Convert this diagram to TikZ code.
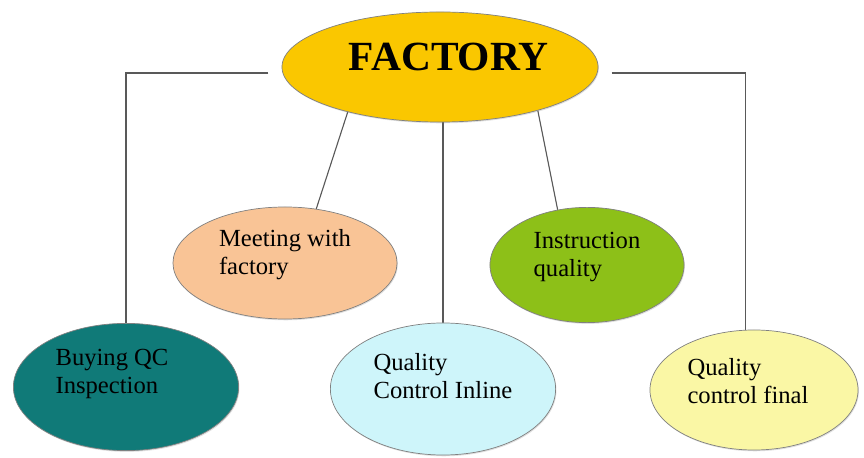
\documentclass[tikz,border=0pt]{standalone}
\usepackage{fontspec}
\setmainfont{Liberation Serif}
\usetikzlibrary{shapes.geometric,backgrounds,shadows}
\definecolor{gold}{RGB}{250,199,0}
\definecolor{peach}{RGB}{249,196,150}
\definecolor{leaf}{RGB}{141,192,24}
\definecolor{sea}{RGB}{16,122,120}
\definecolor{ice}{RGB}{206,245,250}
\definecolor{cream}{RGB}{250,247,165}
\tikzstyle{blob}=[shape=ellipse, draw=black!50, line width=0.5pt, drop shadow={opacity=0.25,shadow xshift=0.6pt,shadow yshift=-0.9pt}]
\tikzstyle{txt}=[align=left, inner sep=0, font=\fontsize{17.5}{20}\selectfont]
\tikzstyle{link}=[draw=black!65, line width=0.8pt]

\begin{document}
\begin{tikzpicture}[x=0.025cm,y=-0.025cm]
\useasboundingbox (0,0) rectangle (864,458);
% the ovals
\node[blob, fill=gold, minimum width=7.9cm, minimum height=2.75cm] (fac) at (440,67) {};
\node[blob, fill=peach, minimum width=5.6cm, minimum height=2.8cm] (meet) at (285,263) {};
\node[blob, fill=leaf, minimum width=4.85cm, minimum height=2.88cm] (instr) at (587,265) {};
\node[blob, fill=sea, minimum width=5.63cm, minimum height=3.18cm] (buy) at (126,387) {};
\node[blob, fill=ice, minimum width=5.63cm, minimum height=3.3cm] (inl) at (443,389) {};
\node[blob, fill=cream, minimum width=5.2cm, minimum height=3cm] (fin) at (754,390) {};
% the texts
\node[inner sep=0, font=\bfseries\fontsize{29.5}{30}\selectfont] (factxt) at ([xshift=0.22cm,yshift=0.25cm]fac.center) {FACTORY};
\node[txt] (meettxt) at ([yshift=0.2cm]meet.center) {Meeting with\\factory};
\node[txt] (instrtxt) at ([yshift=0.2cm]instr.center) {Instruction\\quality};
\node[txt] (buytxt) at ([xshift=-0.35cm,yshift=0.32cm]buy.center) {Buying QC\\Inspection};
\node[txt] (inltxt) at ([yshift=0.32cm]inl.center) {Quality\\Control Inline};
\node[txt] (fintxt) at ([xshift=-0.15cm,yshift=0.22cm]fin.center) {Quality\\control final};
% the lines
\begin{scope}[on background layer]
\draw[link] ([xshift=-0.33cm,yshift=-0.15cm]fac.west) -| (buy.north);
\draw[link] ([xshift=0.33cm,yshift=-0.15cm]fac.east) -| ([xshift=-0.22cm]fin.north);
\draw[link] (inl.north |- fac.south) -- (inl.north);
\draw[link] (fac.206) -- (meet.60);
\draw[link] (fac.336) -- (instr.118);
\end{scope}
\end{tikzpicture}
\end{document}
